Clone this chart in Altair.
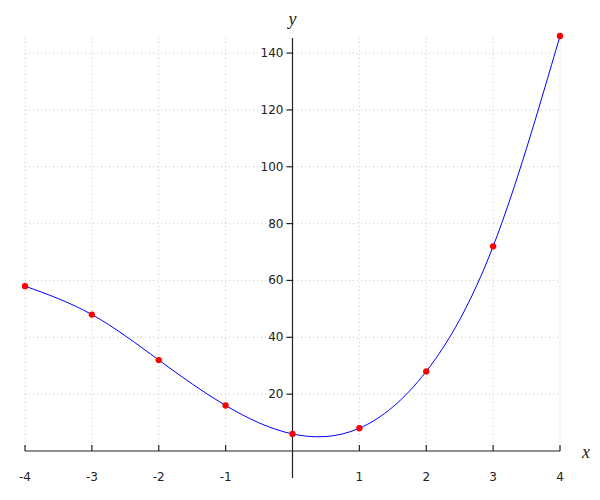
import altair as alt
import pandas as pd

xs = [-4, -3, -2, -1, 0, 1, 2, 3, 4]
ys = [58, 48, 32, 16, 6, 8, 28, 72, 146]
x_grid = [-4, -3, -2, -1, 0, 1, 2, 3, 4]
x_ticks = [-4, -3, -2, -1, 1, 2, 3, 4]
y_ticks = [20, 40, 60, 80, 100, 120, 140]

W, H = 535, 415
xscale = alt.Scale(domain=[-4, 4], nice=False, zero=False)
yscale = alt.Scale(domain=[0, 146], nice=False, zero=False)

pts = pd.DataFrame({"x": xs, "y": ys})
one = pd.DataFrame({"k": [0]})
gx = pd.DataFrame({"x": x_grid})
tx = pd.DataFrame({"x": x_ticks, "lab": [str(v) for v in x_ticks]})
ty = pd.DataFrame({"y": y_ticks, "lab": [str(v) for v in y_ticks]})

def X(f):
    return alt.X(f, type="quantitative", scale=xscale, axis=None)

def Y(f):
    return alt.Y(f, type="quantitative", scale=yscale, axis=None)

X0 = alt.XDatum(0, type="quantitative", scale=xscale, axis=None)
Y0 = alt.YDatum(0, type="quantitative", scale=yscale, axis=None)

grid_style = dict(color="#c8c8c8", strokeWidth=1, strokeDash=[1, 3])

vgrid = alt.Chart(gx).mark_rule(**grid_style).encode(
    x=X("x"), y=alt.value(2), y2=alt.value(H))
hgrid = alt.Chart(ty).mark_rule(**grid_style).encode(
    y=Y("y"), x=alt.value(0), x2=alt.value(W))

xaxis = alt.Chart(one).mark_rule(color="#222", strokeWidth=1.2).encode(
    y=Y0, x=alt.value(0), x2=alt.value(W))
yaxis = alt.Chart(one).mark_rule(color="#222", strokeWidth=1.2).encode(
    x=X0, y=alt.value(2), y2=alt.value(442))

xticks = alt.Chart(tx).mark_rule(color="#222", strokeWidth=1.2, y2Offset=-6).encode(
    x=X("x"), y=Y0, y2=alt.Y2(datum=0))
yticks = alt.Chart(ty).mark_rule(color="#222", strokeWidth=1.2, x2Offset=-6).encode(
    y=Y("y"), x=X0, x2=alt.X2(datum=0))

xlabels = alt.Chart(tx).mark_text(
    font="DejaVu Sans", fontSize=12, color="#222", dy=26, baseline="middle", align="center"
).encode(x=X("x"), y=Y0, text="lab:N")
ylabels = alt.Chart(ty).mark_text(
    font="DejaVu Sans", fontSize=12, color="#222", dx=-9, baseline="middle", align="right"
).encode(y=Y("y"), x=X0, text="lab:N")

curve = alt.Chart(pts).mark_line(color="blue", strokeWidth=1, interpolate="natural").encode(
    x=X("x"), y=Y("y"))
dots = alt.Chart(pts).mark_point(filled=True, color="red", size=40, opacity=1).encode(
    x=X("x"), y=Y("y"))

ytitle = alt.Chart(one).mark_text(
    text="y", font="Liberation Serif", fontStyle="italic", fontWeight="normal",
    fontSize=18, color="#222", baseline="alphabetic", align="center"
).encode(x=X0, y=alt.value(-11))
xtitle = alt.Chart(one).mark_text(
    text="x", font="Liberation Serif", fontStyle="italic", fontWeight="normal",
    fontSize=18, color="#222", baseline="alphabetic", align="center", dy=7
).encode(x=alt.value(561), y=Y0)

chart = alt.layer(
    vgrid, hgrid, xaxis, yaxis, xticks, yticks, xlabels, ylabels, curve, dots, ytitle, xtitle
).properties(
    width=W, height=H,
    autosize=alt.AutoSizeParams(type="none"),
    padding={"left": 17, "top": 28, "right": 32, "bottom": 36},
).configure_view(stroke=None)

chart.save("out.html", embed_options={"renderer": "svg", "actions": False})
